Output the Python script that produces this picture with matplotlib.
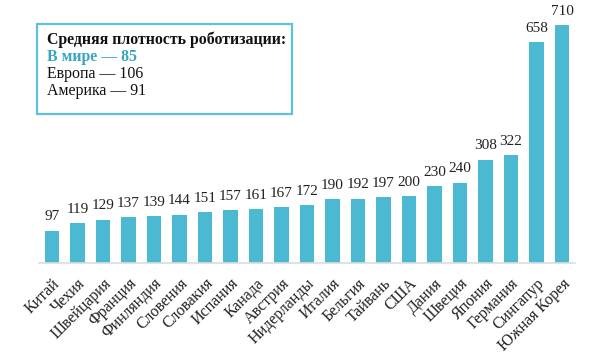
import matplotlib.pyplot as plt
from matplotlib.patches import Rectangle

countries = ["Китай", "Чехия", "Швейцария", "Франция", "Финляндия", "Словения",
             "Словакия", "Испания", "Канада", "Австрия", "Нидерланды", "Италия",
             "Бельгия", "Тайвань", "США", "Дания", "Швеция", "Япония",
             "Германия", "Сингапур", "Южная Корея"]
density = [97, 119, 129, 137, 139, 144, 151, 157, 161, 167, 172, 190,
           192, 197, 200, 230, 240, 308, 322, 658, 710]

box_title = "Средняя плотность роботизации:"
box_lines = ["В мире — 85", "Европа — 106", "Америка — 91"]

bar_color = "#4BB9D1"
teal_text = "#36A5BE"

plt.rcParams['font.family'] = ['Liberation Serif', 'DejaVu Serif']

fig = plt.figure(figsize=(5.91, 3.54), dpi=100)
ax = fig.add_axes([0.0664, 0.257, 0.906, 0.729])

x = range(len(countries))
ax.bar(x, density, width=0.57, color=bar_color)
for i, v in zip(x, density):
    ax.text(i, v + 22, str(v), ha='center', va='bottom', fontsize=11, color="#222222")

ax.set_xlim(-0.5, len(countries) - 0.5)
ax.set_ylim(0, 770)
ax.set_xticks(list(x))
ax.set_xticklabels(countries, rotation=45, ha='right', va='top',
                   rotation_mode='anchor', fontsize=11.5, color="#222222")
ax.tick_params(axis='x', length=0, pad=9)
ax.set_yticks([])
for s in ['top', 'right', 'left']:
    ax.spines[s].set_visible(False)
ax.spines['bottom'].set_color("#DDDDDD")
ax.spines['bottom'].set_linewidth(1.2)

# legend-like box
fig.patches.append(Rectangle((37 / 591, 1 - 114 / 354), 255 / 591, 90 / 354,
                             transform=fig.transFigure, fill=True, facecolor="white",
                             edgecolor="#5BC3DA", linewidth=1.6, zorder=5))
fig.text(47 / 591, 1 - 40 / 354, box_title, fontsize=11.4, fontweight='bold',
         va='center', color="#111111", zorder=6)
fig.text(47 / 591, 1 - 57 / 354, box_lines[0], fontsize=11.4, fontweight='bold',
         va='center', color=teal_text, zorder=6)
fig.text(47 / 591, 1 - 74 / 354, box_lines[1], fontsize=11.4,
         va='center', color="#111111", zorder=6)
fig.text(47 / 591, 1 - 91 / 354, box_lines[2], fontsize=11.4,
         va='center', color="#111111", zorder=6)

plt.savefig("out.png", dpi=100)
